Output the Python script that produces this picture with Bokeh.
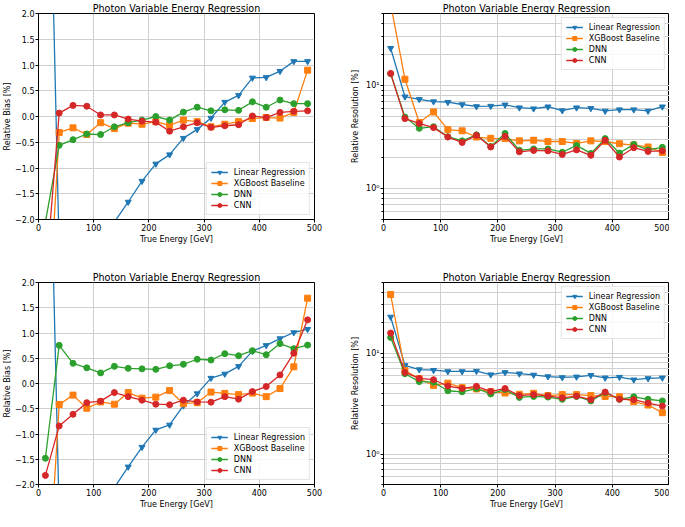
from bokeh.plotting import figure
from bokeh.layouts import column, row
from bokeh.models import FixedTicker, CustomJSTickFormatter, Range1d
from bokeh.embed import file_html
from bokeh.resources import INLINE

# ---------------- data ----------------
energy = [12.5, 37.5, 62.5, 87.5, 112.5, 137.5, 162.5, 187.5, 212.5, 237.5,
          262.5, 287.5, 312.5, 337.5, 362.5, 387.5, 412.5, 437.5, 462.5, 487.5]

series_names = ["Linear Regression", "XGBoost Baseline", "DNN", "CNN"]
series_colors = ["#1f77b4", "#ff7f0e", "#2ca02c", "#d62728"]
series_markers = ["inverted_triangle", "square", "circle", "circle"]

x_ticks = [0, 100, 200, 300, 400, 500]
bias_ticks = [-2.0, -1.5, -1.0, -0.5, 0.0, 0.5, 1.0, 1.5, 2.0]
res_major_ticks = [1, 10]
res_minor_ticks = [0.5, 0.6, 0.7, 0.8, 0.9, 2, 3, 4, 5, 6, 7, 8, 9, 20, 30, 40, 50]

# top-left: relative bias
bias1_linear = [8.8, -2.6, -2.9, -2.7, -2.4, -2.05, -1.66, -1.255, -0.92, -0.74,
                -0.42, -0.25, -0.03, 0.28, 0.41, 0.75, 0.76, 0.88, 1.07, 1.07]
bias1_xgb = [-5.0, -0.31, -0.22, -0.35, -0.12, -0.235, -0.13, -0.15, -0.10, -0.17,
             -0.07, -0.10, -0.20, -0.15, -0.10, -0.04, -0.02, -0.03, 0.08, 0.90]
bias1_dnn = [-2.05, -0.56, -0.45, -0.34, -0.35, -0.20, -0.12, -0.07, 0.0, -0.07,
             0.085, 0.18, 0.11, 0.13, 0.12, 0.285, 0.18, 0.32, 0.25, 0.25]
bias1_cnn = [-3.2, 0.066, 0.215, 0.20, 0.03, 0.03, -0.05, -0.09, -0.11, -0.285,
             -0.20, -0.12, -0.21, -0.18, -0.16, 0.01, -0.02, 0.08, 0.10, 0.11]

# top-right: relative resolution
res1_linear = [23.0, 7.78, 7.34, 6.98, 6.88, 6.54, 6.26, 6.31, 6.49, 6.09,
               5.96, 6.22, 5.71, 6.09, 6.0, 5.66, 5.83, 5.83, 5.66, 6.22]
res1_xgb = [62.0, 11.5, 4.37, 5.54, 3.73, 3.63, 3.16, 3.07, 3.05, 2.90,
            2.94, 2.86, 2.86, 2.74, 2.90, 2.86, 2.72, 2.64, 2.53, 2.24]
res1_dnn = [13.0, 4.94, 3.84, 3.98, 3.18, 2.90, 3.32, 2.56, 3.42, 2.35,
            2.42, 2.42, 2.25, 2.62, 2.19, 3.05, 2.21, 2.68, 2.37, 2.51]
res1_cnn = [13.1, 4.77, 4.28, 3.90, 3.16, 2.80, 3.28, 2.53, 3.21, 2.27,
            2.34, 2.32, 2.14, 2.37, 2.10, 2.94, 2.02, 2.49, 2.29, 2.32]

# bottom-left: relative bias
bias2_linear = [8.8, -2.6, -2.9, -2.7, -2.4, -2.06, -1.65, -1.26, -0.92, -0.82,
                -0.44, -0.20, 0.107, 0.19, 0.34, 0.64, 0.755, 0.89, 1.01, 1.075]
bias2_xgb = [-4.9, -0.415, -0.23, -0.49, -0.365, -0.41, -0.18, -0.29, -0.27, -0.14,
             -0.40, -0.38, -0.17, -0.195, -0.22, -0.19, -0.26, -0.10, 0.33, 1.69]
bias2_dnn = [-1.48, 0.755, 0.40, 0.31, 0.21, 0.34, 0.30, 0.29, 0.28, 0.35,
             0.38, 0.48, 0.465, 0.59, 0.55, 0.65, 0.57, 0.79, 0.69, 0.76]
bias2_cnn = [-1.82, -0.84, -0.61, -0.38, -0.35, -0.18, -0.26, -0.33, -0.41, -0.42,
             -0.33, -0.365, -0.37, -0.26, -0.31, -0.16, -0.06, 0.17, 0.60, 1.26]

# bottom-right: relative resolution
res2_linear = [22.8, 7.55, 6.87, 6.77, 6.58, 6.58, 6.63, 6.12, 6.44, 6.25,
               6.08, 5.86, 5.74, 5.82, 6.03, 5.69, 5.78, 5.45, 5.61, 5.69]
res2_xgb = [38.0, 6.72, 5.57, 4.79, 5.04, 4.55, 4.42, 4.14, 4.03, 3.91,
            4.0, 3.80, 3.88, 3.88, 3.80, 3.72, 3.69, 3.31, 3.06, 2.57]
res2_dnn = [14.3, 6.25, 5.22, 5.15, 4.24, 4.14, 4.46, 3.94, 4.36, 3.64,
            3.72, 3.67, 3.49, 3.72, 3.36, 4.06, 3.49, 3.69, 3.49, 3.36]
res2_cnn = [15.8, 6.44, 5.61, 5.45, 4.72, 4.46, 4.69, 4.18, 4.46, 3.80,
            3.88, 3.77, 3.61, 3.75, 3.46, 4.11, 3.49, 3.46, 3.20, 2.99]

TITLE = "Photon Variable Energy Regression"
FONT = "DejaVu Sans"
GRID = "#cfcfcf"


def make_fig(series, log, width, height, mb_left, mb_right, mb_top, mb_bottom,
             legend_loc, ylabel_standoff):
    if log:
        p = figure(width=width, height=height, y_axis_type="log",
                   x_range=Range1d(0, 500), y_range=Range1d(0.5, 50),
                   output_backend="svg", toolbar_location=None, title=TITLE)
    else:
        p = figure(width=width, height=height,
                   x_range=Range1d(0, 500), y_range=Range1d(-2, 2),
                   output_backend="svg", toolbar_location=None, title=TITLE)
    p.min_border_left = mb_left
    p.min_border_right = mb_right
    p.min_border_top = mb_top
    p.min_border_bottom = mb_bottom
    p.background_fill_color = "white"
    p.border_fill_color = "white"
    p.outline_line_color = "black"
    p.outline_line_width = 1

    p.title.text_font = FONT
    p.title.text_font_size = "9.6px"
    p.title.text_font_style = "normal"
    p.title.text_color = "black"
    p.title.align = "center"
    p.title.standoff = 0
    p.title.offset = 0

    for ax in (p.xaxis, p.yaxis):
        ax.axis_line_color = "black"
        ax.major_tick_out = 3
        ax.major_tick_in = 0
        ax.minor_tick_in = 0
        ax.major_tick_line_color = "black"
        ax.major_label_text_font = FONT
        ax.major_label_text_font_size = "8px"
        ax.major_label_text_color = "black"
        ax.axis_label_text_font = FONT
        ax.axis_label_text_font_size = "8px"
        ax.axis_label_text_font_style = "normal"
        ax.axis_label_text_color = "black"
        ax.major_label_standoff = 1

    p.xaxis.ticker = FixedTicker(ticks=x_ticks)
    p.xaxis.axis_label = "True Energy [GeV]"
    p.xaxis.axis_label_standoff = 1
    p.yaxis.axis_label_standoff = ylabel_standoff

    if log:
        p.yaxis.ticker = FixedTicker(ticks=res_major_ticks, minor_ticks=res_minor_ticks)
        p.yaxis.formatter = CustomJSTickFormatter(
            code="return tick >= 10 ? '10\u00b9' : '10\u2070';")
        p.yaxis.minor_tick_out = 2
        p.yaxis.minor_tick_line_color = "black"
        p.yaxis.axis_label = "Relative Resolution [%]"
        p.ygrid.minor_grid_line_color = GRID
        p.ygrid.minor_grid_line_width = 1
    else:
        p.yaxis.ticker = FixedTicker(ticks=bias_ticks)
        p.yaxis.formatter = CustomJSTickFormatter(
            code="return (tick < 0 ? '\u2212' : '') + Math.abs(tick).toFixed(1);")
        p.yaxis.axis_label = "Relative Bias [%]"

    p.xgrid.ticker = FixedTicker(ticks=x_ticks)
    p.grid.grid_line_color = GRID
    p.grid.grid_line_width = 1

    for name, color, marker, vals in zip(series_names, series_colors, series_markers, series):
        p.line(energy, vals, line_color=color, line_width=1.3, legend_label=name)
        p.scatter(energy, vals, marker=marker, size=6, fill_color=color,
                  line_color=color, legend_label=name)

    lg = p.legend[0]
    lg.location = legend_loc
    lg.label_text_font = FONT
    lg.label_text_font_size = "8px"
    lg.label_text_color = "black"
    lg.label_height = 10
    lg.glyph_height = 10
    lg.glyph_width = 17
    lg.label_standoff = 6
    lg.spacing = 1
    lg.padding = 4
    lg.margin = 4
    lg.border_line_color = "#cccccc"
    lg.border_line_width = 1
    lg.background_fill_color = "white"
    lg.background_fill_alpha = 0.85
    return p


p1 = make_fig([bias1_linear, bias1_xgb, bias1_dnn, bias1_cnn], False,
              334, 254, 28, 20, 0, 35, "bottom_right", 0)
p2 = make_fig([res1_linear, res1_xgb, res1_dnn, res1_cnn], True,
              335, 254, 49, 0, 0, 35, "top_right", 3)
p3 = make_fig([bias2_linear, bias2_xgb, bias2_dnn, bias2_cnn], False,
              334, 257, 28, 20, 28, 0, "bottom_right", 0)
p4 = make_fig([res2_linear, res2_xgb, res2_dnn, res2_cnn], True,
              335, 257, 49, 0, 28, 0, "top_right", 3)

layout = column(row(p1, p2), row(p3, p4))

with open("out.html", "w") as f:
    f.write(file_html(layout, INLINE))
